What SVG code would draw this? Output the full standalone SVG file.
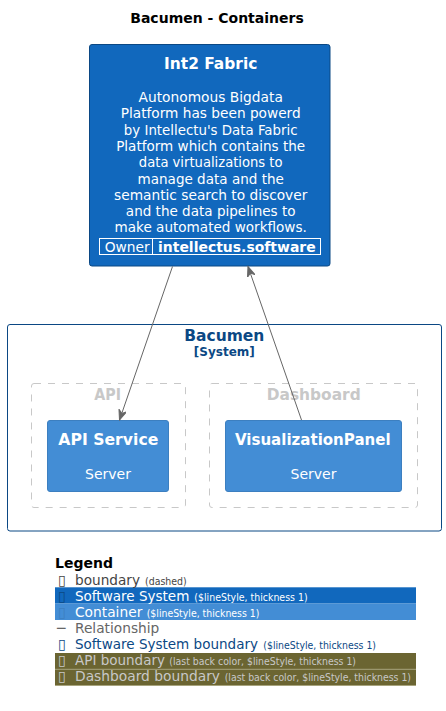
<svg xmlns="http://www.w3.org/2000/svg" width="446" height="711" viewBox="0 0 446 711">
<defs>
<style>
text{font-family:"DejaVu Sans","Liberation Sans",sans-serif}
.b{font-weight:bold}
.w{fill:#FFFFFF}
.ctr{text-anchor:middle}
.sys{fill:#1168BD;stroke:#0B4884;stroke-width:1}
.con{fill:#438DD5;stroke:#3C7FC0;stroke-width:1}
.dash{fill:none;stroke:#C8C8C8;stroke-width:1;stroke-dasharray:7,7}
.conn{stroke:#666666;stroke-width:1;fill:none}
.lg{font-size:14px}
.sm{font-size:10px}
</style>
<marker id="arr" markerUnits="userSpaceOnUse" markerWidth="12" markerHeight="10" refX="10" refY="4" orient="auto">
<path d="M0,0 L10,4 L0,8 L3,4 Z" fill="#666666" stroke="#666666" stroke-width="1"/>
</marker>
</defs>
<rect width="446" height="711" fill="#FFFFFF"/>
<text x="217" y="23" class="b ctr" font-size="14" fill="#000000">Bacumen - Containers</text>

<g id="int2fabric">
<rect class="sys" x="89.5" y="44.5" width="240.5" height="221.5" rx="2.5" ry="2.5"/>
<text x="210.7" y="69" class="b ctr w" font-size="16" textLength="93.3" lengthAdjust="spacingAndGlyphs">Int2 Fabric</text>
<g class="ctr w" font-size="14">
<text x="210.7" y="102" textLength="144.3" lengthAdjust="spacingAndGlyphs">Autonomous Bigdata</text>
<text x="210.7" y="118.3" textLength="180" lengthAdjust="spacingAndGlyphs">Platform has been powerd</text>
<text x="210.7" y="134.6" textLength="173.7" lengthAdjust="spacingAndGlyphs">by Intellectu's Data Fabric</text>
<text x="210.7" y="150.9" textLength="189" lengthAdjust="spacingAndGlyphs">Platform which contains the</text>
<text x="210.7" y="167.2" textLength="143.7" lengthAdjust="spacingAndGlyphs">data virtualizations to</text>
<text x="210.7" y="183.5" textLength="146.3" lengthAdjust="spacingAndGlyphs">manage data and the</text>
<text x="210.7" y="199.8" textLength="193.3" lengthAdjust="spacingAndGlyphs">semantic search to discover</text>
<text x="210.7" y="216.1" textLength="169.7" lengthAdjust="spacingAndGlyphs">and the data pipelines to</text>
<text x="210.7" y="232.4" textLength="192.3" lengthAdjust="spacingAndGlyphs">make automated workflows.</text>
</g>
<rect x="99.5" y="238.5" width="221" height="16" fill="none" stroke="#FFFFFF" stroke-width="1"/>
<line x1="152.5" y1="238.5" x2="152.5" y2="254.5" stroke="#FFFFFF" stroke-width="1"/>
<text x="104.7" y="251.5" class="w" font-size="14" textLength="45" lengthAdjust="spacingAndGlyphs">Owner</text>
<text x="158" y="251.5" class="b w" font-size="14" textLength="157.7" lengthAdjust="spacingAndGlyphs">intellectus.software</text>
</g>

<g id="bacumen">
<rect x="7.5" y="324.5" width="434" height="206.5" rx="2.5" ry="2.5" fill="none" stroke="#0B4884" stroke-width="1"/>
<text x="224.3" y="341" class="b ctr" font-size="16" fill="#0B4884" textLength="80" lengthAdjust="spacingAndGlyphs">Bacumen</text>
<text x="224.3" y="356" class="b ctr" font-size="12" fill="#0B4884">[System]</text>
</g>

<g id="api_boundary">
<rect class="dash" x="31.5" y="383.5" width="154" height="124" rx="2.5" ry="2.5"/>
<text x="107.7" y="400" class="b ctr" font-size="16" fill="#C8C8C8" textLength="26.7" lengthAdjust="spacingAndGlyphs">API</text>
</g>

<g id="dashboard_boundary">
<rect class="dash" x="209.5" y="383.5" width="208" height="124" rx="2.5" ry="2.5"/>
<text x="313.7" y="400" class="b ctr" font-size="16" fill="#C8C8C8" textLength="94" lengthAdjust="spacingAndGlyphs">Dashboard</text>
</g>

<g id="api_service">
<rect class="con" x="47.5" y="420.5" width="121" height="71" rx="2.5" ry="2.5"/>
<text x="108.3" y="445" class="b ctr w" font-size="16" textLength="100" lengthAdjust="spacingAndGlyphs">API Service</text>
<text x="108" y="478.5" class="ctr w" font-size="14">Server</text>
</g>

<g id="visualization_panel">
<rect class="con" x="225.5" y="420.5" width="176" height="71" rx="2.5" ry="2.5"/>
<text x="312.8" y="445" class="b ctr w" font-size="16" textLength="155.7" lengthAdjust="spacingAndGlyphs">VisualizationPanel</text>
<text x="313.5" y="478.5" class="ctr w" font-size="14">Server</text>
</g>

<g id="connectors">
<line class="conn" x1="172.5" y1="266.5" x2="119.5" y2="420" marker-end="url(#arr)"/>
<line class="conn" x1="301.5" y1="420" x2="248" y2="266.5" marker-end="url(#arr)"/>
</g>

<g id="legend">
<text x="55" y="568" class="b" font-size="14" fill="#000000">Legend</text>
<rect x="55" y="587.3" width="361" height="16.3" fill="#1168BD"/>
<rect x="55" y="603.6" width="361" height="16.4" fill="#438DD5"/>
<rect x="55" y="653" width="361" height="32.7" fill="#6B6532"/>
<line x1="55" y1="669.3" x2="416" y2="669.3" stroke="#A8A47E" stroke-width="1"/>
<line x1="55" y1="685.5" x2="416" y2="685.5" stroke="#A8A47E" stroke-width="1"/>

<text x="58" y="585" class="lg" fill="#444444">▯</text>
<text x="75" y="585" class="lg" fill="#444444" textLength="65" lengthAdjust="spacingAndGlyphs">boundary</text>
<text x="145" y="585" class="sm" fill="#444444" textLength="41.7" lengthAdjust="spacingAndGlyphs">(dashed)</text>

<text x="58" y="601" class="lg" fill="#0B4884">▯</text>
<text x="75" y="601" class="lg w" textLength="114.3" lengthAdjust="spacingAndGlyphs">Software System</text>
<text x="194.3" y="601" class="sm w" textLength="113.3" lengthAdjust="spacingAndGlyphs">($lineStyle, thickness 1)</text>

<text x="58" y="617" class="lg" fill="#3C7FC0">▯</text>
<text x="75" y="617" class="lg w" textLength="67.3" lengthAdjust="spacingAndGlyphs">Container</text>
<text x="146.7" y="617" class="sm w" textLength="112.7" lengthAdjust="spacingAndGlyphs">($lineStyle, thickness 1)</text>

<text x="57" y="633" class="lg" fill="#666666">─</text>
<text x="75" y="633" class="lg" fill="#666666" textLength="84.3" lengthAdjust="spacingAndGlyphs">Relationship</text>

<text x="58" y="649" class="lg" fill="#0B4884">▯</text>
<text x="75" y="649" class="lg" fill="#0B4884" textLength="183" lengthAdjust="spacingAndGlyphs">Software System boundary</text>
<text x="263.3" y="649" class="sm" fill="#0B4884" textLength="112.7" lengthAdjust="spacingAndGlyphs">($lineStyle, thickness 1)</text>

<text x="58" y="665" class="lg" fill="#C8C8C8">▯</text>
<text x="75" y="665" class="lg" fill="#C8C8C8" textLength="90" lengthAdjust="spacingAndGlyphs">API boundary</text>
<text x="169.3" y="665" class="sm" fill="#C8C8C8" textLength="186.7" lengthAdjust="spacingAndGlyphs">(last back color, $lineStyle, thickness 1)</text>

<text x="58" y="681" class="lg" fill="#C8C8C8">▯</text>
<text x="75" y="681" class="lg" fill="#C8C8C8" textLength="145" lengthAdjust="spacingAndGlyphs">Dashboard boundary</text>
<text x="224.7" y="681" class="sm" fill="#C8C8C8" textLength="186.3" lengthAdjust="spacingAndGlyphs">(last back color, $lineStyle, thickness 1)</text>
</g>
</svg>
